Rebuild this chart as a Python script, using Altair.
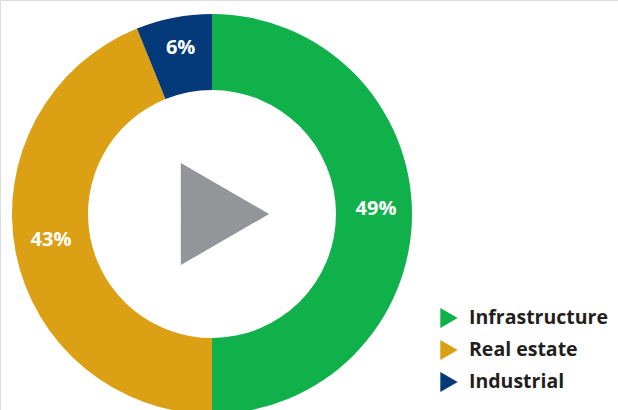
import altair as alt
import pandas as pd

categories = ["Infrastructure", "Real estate", "Industrial"]
shares = [49, 43, 6]
labels = ["49%", "43%", "6%"]
colors = ["#10b14b", "#dba013", "#053a7a"]

df = pd.DataFrame({
    "category": categories,
    "share": shares,
    "label": labels,
    "order": list(range(len(categories))),
})

CX, CY = 212, 214

base = alt.Chart(df).encode(
    theta=alt.Theta("share:Q", stack=True),
    order=alt.Order("order:Q", sort="ascending"),
)

arcs = base.mark_arc(outerRadius=200, innerRadius=124, stroke=None).encode(
    x=alt.value(CX),
    y=alt.value(CY),
    color=alt.Color(
        "category:N",
        scale=alt.Scale(domain=categories, range=colors),
        sort=categories,
        legend=alt.Legend(
            title=None,
            orient="none",
            legendX=439,
            legendY=308,
            symbolType="triangle-right",
            symbolSize=400,
            symbolStrokeWidth=0,
            labelFontSize=19.5,
            labelFont="Open Sans",
            labelFontWeight="bold",
            labelColor="#231f20",
            labelOffset=10,
            rowPadding=12,
            padding=0,
        ),
    ),
)

texts = base.mark_text(
    radius=164, fontSize=20, font="Open Sans", fontWeight="bold", color="white", dy=-5
).encode(
    x=alt.value(CX),
    y=alt.value(CY),
    text="label:N",
)

play = alt.Chart(pd.DataFrame({"k": [0]})).mark_point(
    shape="triangle-right", filled=True, size=10400, color="#939598", opacity=1, strokeWidth=0
).encode(x=alt.value(225), y=alt.value(214))

chart = (
    alt.layer(arcs, texts, play)
    .properties(width=618, height=410, autosize=alt.AutoSizeParams(type="none"), padding=0)
    .configure_view(stroke=None)
    .configure(background="white")
)

chart.save("out.html", embed_options={"renderer": "svg", "actions": False})
